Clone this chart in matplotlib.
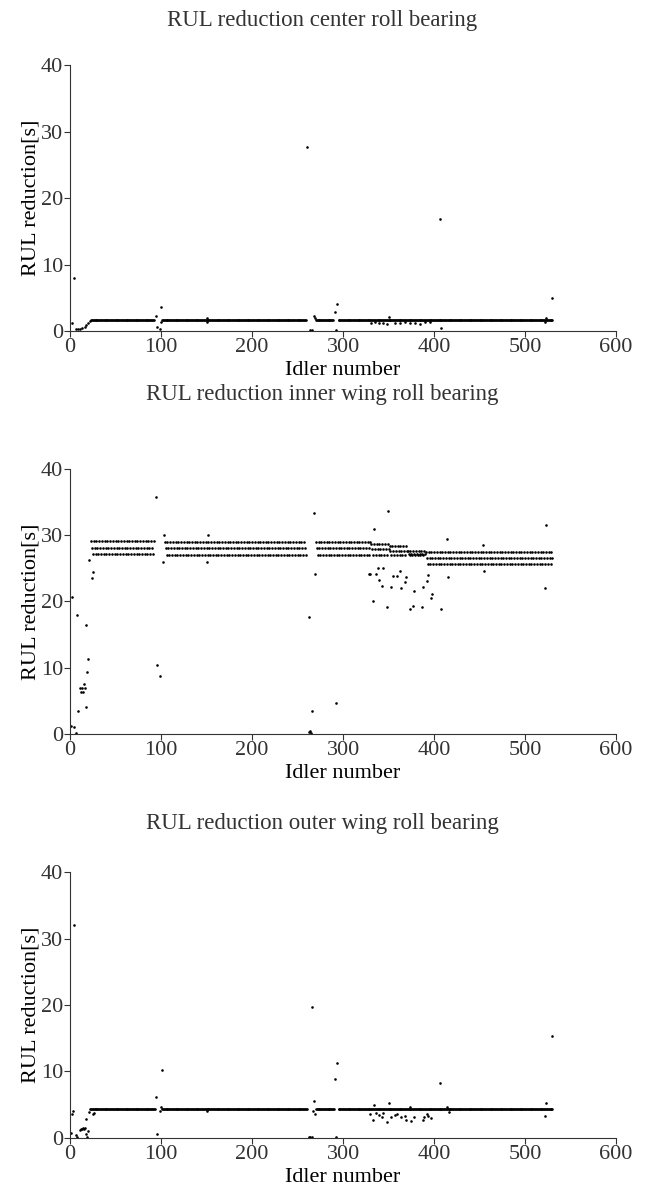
import numpy as np
import matplotlib.pyplot as plt

plt.rcParams['font.family'] = ['Liberation Serif', 'DejaVu Serif']
plt.rcParams['font.size'] = 16

########################################################################
# baseline runs (first idler, last idler, value)
center_runs = [(23, 92, 1.65), (101, 259, 1.65), (270, 289, 1.65),
               (295, 330, 1.65), (331, 410, 1.6), (411, 530, 1.6)]
center_x = [2, 4, 7, 9, 11, 13, 16, 18, 20, 22, 94, 95, 99, 100, 100, 150, 150,
            260, 264, 266, 268, 269, 291, 292, 293,
            331, 335, 340, 344, 348, 350, 357, 363, 368, 374, 379, 385, 390, 396,
            407, 408, 522, 523, 530]
center_y = [1.25, 7.9, 0.25, 0.3, 0.35, 0.4, 0.55, 0.9, 1.15, 1.5, 2.25, 0.55, 0.35, 3.55, 1.4, 1.4, 1.9,
            27.7, 0.15, 0.15, 2.3, 2.0, 2.8, 0.15, 4.05,
            1.15, 1.4, 1.2, 1.15, 1.0, 2.15, 1.2, 1.15, 1.4, 1.15, 1.25, 1.0, 1.35, 1.4,
            16.9, 0.4, 1.35, 1.95, 4.9]

# inner wing: three levels, idlers cycle through them
inner_top_runs = [(23, 92, 29.1), (104, 259, 29.0), (270, 330, 29.0), (331, 350, 28.7),
                  (351, 370, 28.3), (371, 390, 27.6), (391, 530, 27.5)]
inner_mid_runs = [(24, 92, 28.1), (105, 259, 28.0), (271, 330, 28.0), (332, 350, 27.9),
                  (352, 370, 27.6), (372, 390, 27.1), (392, 530, 26.5)]
inner_bot_runs = [(25, 92, 27.1), (106, 259, 27.0), (272, 330, 27.0), (333, 350, 27.0),
                  (353, 370, 27.0), (373, 390, 27.0), (393, 530, 25.6)]
inner_x = [1, 2, 4, 7, 8, 9, 11, 12, 13, 14, 15, 16, 17, 18, 19, 20, 21, 24, 25,
           94, 95, 99, 102, 103, 150, 151, 262, 263, 264, 265, 266, 268, 269, 292,
           328, 330, 333, 334, 336, 338, 339, 343, 344, 348, 349, 353, 355, 359, 363,
           364, 368, 369, 374, 377, 378, 387, 388, 392, 393, 397, 398, 408, 414, 415,
           454, 455, 522, 523]
inner_y = [1.2, 20.7, 1.1, 0.2, 17.9, 3.4, 6.9, 6.4, 6.9, 6.4, 7.5, 6.9, 4.0, 16.4, 9.4, 11.3, 26.3, 23.5, 24.4,
           35.7, 10.4, 8.8, 26.0, 30.0, 26.0, 30.0, 17.7, 0.3, 0.4, 0.2, 3.4, 33.3, 24.2, 4.7,
           24.2, 24.2, 20.0, 31.0, 24.2, 25.0, 23.2, 22.3, 25.0, 19.1, 33.7, 22.2, 23.9, 23.9, 24.6,
           22.0, 22.9, 23.7, 18.9, 19.3, 21.6, 19.1, 22.2, 23.1, 24.0, 20.5, 21.2, 18.8, 29.5, 23.7,
           28.5, 24.6, 22.0, 31.5]

outer_runs = [(23, 93, 4.4), (101, 260, 4.4), (270, 290, 4.35),
              (295, 330, 4.35), (331, 410, 4.3), (411, 530, 4.3)]
outer_x = [1, 2, 3, 4, 6, 8, 11, 12, 13, 14, 15, 16, 17, 18, 19, 20, 21, 22, 25, 26,
           94, 95, 99, 100, 101, 150, 262, 264, 266, 266, 267, 268, 269, 291, 292, 293,
           330, 333, 334, 336, 340, 343, 344, 348, 350, 353, 357, 359, 364, 368, 369,
           374, 375, 378, 388, 389, 392, 393, 397, 407, 414, 416, 522, 523, 530]
outer_y = [0.7, 3.6, 4.1, 32.0, 0.5, 0.2, 1.2, 1.4, 1.3, 1.5, 1.3, 1.5, 0.6, 2.8, 0.2, 1.05, 3.9, 4.4, 3.6, 3.7,
           6.1, 0.55, 4.1, 4.6, 10.2, 4.1, 0.2, 0.2, 0.1, 19.7, 4.0, 5.5, 3.6, 8.8, 0.1, 11.3,
           3.6, 2.7, 4.9, 3.8, 3.5, 3.2, 3.7, 2.4, 5.3, 3.2, 3.5, 3.6, 3.1, 3.3, 2.7,
           4.6, 2.6, 3.1, 2.7, 3.1, 3.6, 3.3, 3.0, 8.2, 4.7, 3.9, 3.3, 5.3, 15.3]

titles = ['RUL reduction center roll bearing',
          'RUL reduction inner wing roll bearing',
          'RUL reduction outer wing roll bearing']
########################################################################

def expand(runs, step=1):
    xs, ys = [], []
    for a, b, v in runs:
        xx = np.arange(a, b + 1, step)
        xs.append(xx)
        ys.append(np.full(len(xx), v))
    return np.concatenate(xs), np.concatenate(ys)

panels = []
bx, by = expand(center_runs)
panels.append((bx, by, center_x, center_y))
ix, iy = [], []
for runs in (inner_top_runs, inner_mid_runs, inner_bot_runs):
    a, b = expand(runs, 3)
    ix.append(a)
    iy.append(b)
panels.append((np.concatenate(ix), np.concatenate(iy), inner_x, inner_y))
bx, by = expand(outer_runs)
panels.append((bx, by, outer_x, outer_y))

fig = plt.figure(figsize=(6.49, 11.89), dpi=100)
axes_pos = [[0.108, 0.7216, 0.8413, 0.2237],
            [0.108, 0.3827, 0.8413, 0.2229],
            [0.108, 0.0429, 0.8413, 0.2237]]
title_y = [0.9825, 0.6685, 0.307]
txt_col = '#333333'

for k in range(3):
    ax = fig.add_axes(axes_pos[k])
    x0, y0, x1, y1 = panels[k]
    ax.scatter(x0, y0, s=3.5, c='black', linewidths=0, clip_on=False)
    ax.scatter(x1, y1, s=3.5, c='black', linewidths=0, clip_on=False)
    ax.set_xlim(0, 600)
    ax.set_ylim(0, 40)
    ax.set_xticks([0, 100, 200, 300, 400, 500, 600])
    ax.set_yticks([0, 10, 20, 30, 40])
    ax.spines['top'].set_visible(False)
    ax.spines['right'].set_visible(False)
    for s in ('left', 'bottom'):
        ax.spines[s].set_color(txt_col)
        ax.spines[s].set_linewidth(0.8)
    ax.tick_params(colors=txt_col, length=4, width=0.8, labelsize=16, pad=1)
    ax.set_xlabel('Idler number', fontsize=16, color='black', labelpad=3)
    ax.set_ylabel('RUL reduction[s]', fontsize=16, color='black', labelpad=0)
    fig.text(0.497, title_y[k], titles[k], ha='center', va='center', fontsize=16.5, color=txt_col)

plt.savefig('out.png', dpi=100)
